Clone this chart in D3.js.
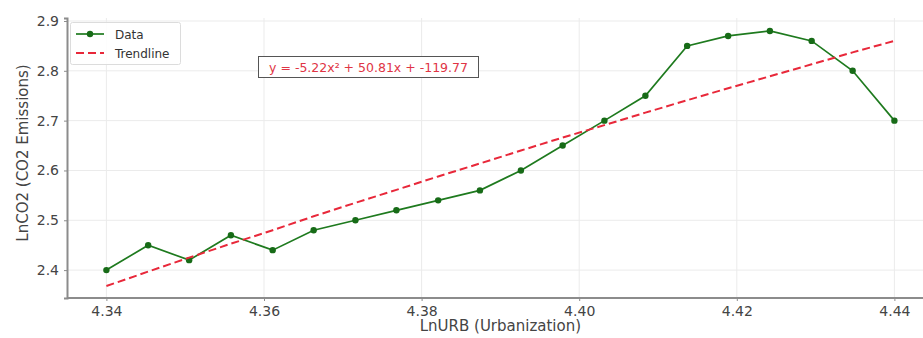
<!DOCTYPE html>
<html>
<head>
<meta charset="utf-8">
<script src="https://cdn.jsdelivr.net/npm/d3@7"></script>
<style>
  body { margin: 0; background: #fff; }
  svg { display: block; font-family: "DejaVu Sans", sans-serif; }
</style>
</head>
<body>
<div id="chart"></div>
<script>
// datos
const urbX = [4.3400, 4.3453, 4.3505, 4.3558, 4.3611, 4.3663, 4.3716, 4.3768, 4.3821, 4.3874,
              4.3926, 4.3979, 4.4032, 4.4084, 4.4137, 4.4189, 4.4242, 4.4295, 4.4347, 4.4400];
const co2Y = [2.40, 2.45, 2.42, 2.47, 2.44, 2.48, 2.50, 2.52, 2.54, 2.56,
              2.60, 2.65, 2.70, 2.75, 2.85, 2.87, 2.88, 2.86, 2.80, 2.70];
const trendY = [2.368, 2.397, 2.425, 2.453, 2.480, 2.508, 2.535, 2.561, 2.588, 2.614,
                2.640, 2.666, 2.691, 2.716, 2.741, 2.765, 2.789, 2.813, 2.837, 2.860];
const xTicks = [4.34, 4.36, 4.38, 4.40, 4.42, 4.44];
const yTicks = [2.4, 2.5, 2.6, 2.7, 2.8, 2.9];
const equation = "y = -5.22x² + 50.81x + -119.77";

const width = 923, height = 338;
const svg = d3.select("#chart").append("svg")
    .attr("width", width)
    .attr("height", height);

const x = d3.scaleLinear().domain([4.335, 4.445]).range([67, 933.8]);
const y = d3.scaleLinear().domain([2.344, 2.906]).range([298, 18]);

// rejilla
svg.append("g").selectAll("line")
    .data(xTicks).enter().append("line")
    .attr("x1", d => x(d)).attr("x2", d => x(d))
    .attr("y1", 18).attr("y2", 298)
    .attr("stroke", "#ebebeb").attr("stroke-width", 1);
svg.append("g").selectAll("line")
    .data(yTicks).enter().append("line")
    .attr("x1", 67).attr("x2", width)
    .attr("y1", d => y(d)).attr("y2", d => y(d))
    .attr("stroke", "#ebebeb").attr("stroke-width", 1);

// ejes
const xAxis = svg.append("g")
    .attr("transform", "translate(0,298)")
    .call(d3.axisBottom(x).tickValues(xTicks).tickFormat(d3.format(".2f")).tickSize(3).tickPadding(5));
const yAxis = svg.append("g")
    .attr("transform", "translate(67,0)")
    .call(d3.axisLeft(y).tickValues(yTicks).tickFormat(d3.format(".1f")).tickSize(3).tickPadding(5));

[xAxis, yAxis].forEach(g => {
    g.select(".domain").attr("stroke", "#8c8c8c").attr("stroke-width", 2);
    g.selectAll(".tick line").attr("stroke", "#8c8c8c");
    g.selectAll(".tick text")
        .attr("fill", "#444")
        .style("font-family", "DejaVu Sans")
        .style("font-size", "14px");
});
xAxis.select(".domain").attr("d", "M67,0H" + width);

// etiquetas de los ejes
svg.append("text")
    .attr("x", x(4.39)).attr("y", 331)
    .attr("text-anchor", "middle")
    .attr("fill", "#444")
    .style("font-size", "15px")
    .text("LnURB (Urbanization)");
svg.append("text")
    .attr("transform", "translate(28,153) rotate(-90)")
    .attr("text-anchor", "middle")
    .attr("fill", "#444")
    .style("font-size", "15px")
    .text("LnCO2 (CO2 Emissions)");

// linea de datos
const line = d3.line().x((d, i) => x(urbX[i])).y(d => y(d));
svg.append("path")
    .datum(co2Y)
    .attr("d", line)
    .attr("fill", "none")
    .attr("stroke", "#1e7a1e")
    .attr("stroke-width", 1.7);
svg.append("g").selectAll("circle")
    .data(co2Y).enter().append("circle")
    .attr("cx", (d, i) => x(urbX[i]))
    .attr("cy", d => y(d))
    .attr("r", 3.2)
    .attr("fill", "#176b17");

// linea de tendencia
svg.append("path")
    .datum(trendY)
    .attr("d", line)
    .attr("fill", "none")
    .attr("stroke", "#e8283a")
    .attr("stroke-width", 2)
    .attr("stroke-dasharray", "8,4");

// leyenda
const leg = svg.append("g");
leg.append("rect")
    .attr("x", 70.5).attr("y", 22.5).attr("width", 110).attr("height", 42)
    .attr("rx", 2)
    .attr("fill", "#fff").attr("fill-opacity", 0.85)
    .attr("stroke", "#dcdcdc");
leg.append("line")
    .attr("x1", 76).attr("x2", 104).attr("y1", 34).attr("y2", 34)
    .attr("stroke", "#1e7a1e").attr("stroke-width", 1.7);
leg.append("circle")
    .attr("cx", 90).attr("cy", 34).attr("r", 3.2).attr("fill", "#176b17");
leg.append("line")
    .attr("x1", 76).attr("x2", 104).attr("y1", 53).attr("y2", 53)
    .attr("stroke", "#e8283a").attr("stroke-width", 2)
    .attr("stroke-dasharray", "8,4");
leg.append("text").attr("x", 115).attr("y", 38.5)
    .attr("fill", "#333").style("font-size", "12px").text("Data");
leg.append("text").attr("x", 115).attr("y", 57.5)
    .attr("fill", "#333").style("font-size", "12px").text("Trendline");

// caja de la ecuacion
const eq = svg.append("g");
eq.append("rect")
    .attr("x", 258.5).attr("y", 56.5).attr("width", 220).attr("height", 21)
    .attr("fill", "#fff")
    .attr("stroke", "#555").attr("stroke-width", 1);
eq.append("text")
    .attr("x", 368.5).attr("y", 71.5)
    .attr("text-anchor", "middle")
    .attr("fill", "#e03545")
    .style("font-size", "12.5px")
    .text(equation);
</script>
</body>
</html>
